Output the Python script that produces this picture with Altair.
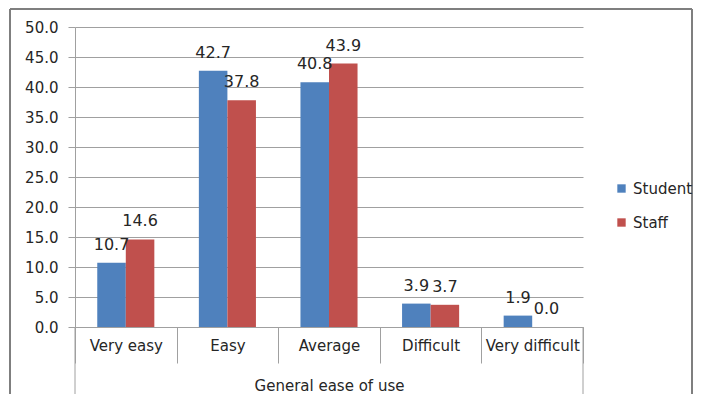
import altair as alt
import pandas as pd

categories = ["Very easy", "Easy", "Average", "Difficult", "Very difficult"]
series = ["Student", "Staff"]
student = [10.7, 42.7, 40.8, 3.9, 1.9]
staff = [14.6, 37.8, 43.9, 3.7, 0.0]
y_ticks = [0, 5, 10, 15, 20, 25, 30, 35, 40, 45, 50]
colors = ["#4F81BD", "#C0504D"]

rows = []
for c, s, t in zip(categories, student, staff):
    rows.append({"cat": c, "series": "Student", "value": s})
    rows.append({"cat": c, "series": "Staff", "value": t})
df = pd.DataFrame(rows)

FONT = "DejaVu Sans"
TXT = "#262626"
GRID = "#a0a0a0"

x_enc = alt.X("cat:N", sort=categories, scale=alt.Scale(paddingInner=0, paddingOuter=0),
              axis=alt.Axis(title="General ease of use", labelAngle=0, tickBand="extent",
                            tickSize=36, tickColor=GRID, domainColor=GRID, labelPadding=-18,
                            labelBaseline="middle", labelFontSize=15, labelColor=TXT,
                            labelFont=FONT, titleFont=FONT, titleFontSize=15,
                            titleFontWeight="normal", titleColor=TXT, titleY=58,
                            titleBaseline="middle", labelOverlap=False))
xo_enc = alt.XOffset("series:N", sort=series,
                     scale=alt.Scale(paddingInner=0, paddingOuter=0.78))
y_enc = alt.Y("value:Q", scale=alt.Scale(domain=[0, 50], nice=False),
              axis=alt.Axis(title=None, values=y_ticks, tickCount=20,
                            format=".1f", tickSize=7, tickColor=GRID, domainColor=GRID,
                            gridColor=GRID, labelPadding=10, labelFontSize=15,
                            labelColor=TXT, labelFont=FONT, labelOverlap=False))
color_enc = alt.Color("series:N", sort=series,
                      scale=alt.Scale(domain=series, range=colors),
                      legend=alt.Legend(title=None, orient="none", legendX=539, legendY=154,
                                        symbolType="square", symbolSize=70,
                                        symbolStrokeWidth=0, labelFontSize=15,
                                        labelFont=FONT, labelColor=TXT, rowPadding=18,
                                        labelOffset=4))

base = alt.Chart(df)
bars = base.mark_bar().encode(x=x_enc, xOffset=xo_enc, y=y_enc, color=color_enc)
labels = base.mark_text(dy=-13, baseline="alphabetic", align="center", fontSize=16,
                        font=FONT, color=TXT).encode(
    x=x_enc, xOffset=xo_enc, y=y_enc, text=alt.Text("value:Q", format=".1f"))

frame_df = pd.DataFrame({"k": [0]})
fr = alt.Chart(frame_df)
left_frame = fr.mark_rule(color=GRID, strokeWidth=1).encode(
    x=alt.value(0), y=alt.value(300), y2=alt.value(367))
right_frame = fr.mark_rule(color=GRID, strokeWidth=1).encode(
    x=alt.value(508), y=alt.value(300), y2=alt.value(367))
border_left = fr.mark_rule(color="#7f7f7f", strokeWidth=2).encode(
    x=alt.value(-65), y=alt.value(-18), y2=alt.value(367))
border_top = fr.mark_rule(color="#7f7f7f", strokeWidth=2).encode(
    x=alt.value(-65), x2=alt.value(617), y=alt.value(-18))
border_right = fr.mark_rule(color="#7f7f7f", strokeWidth=2).encode(
    x=alt.value(617), y=alt.value(-18), y2=alt.value(367))

chart = alt.layer(bars, labels, left_frame, right_frame, border_left, border_top,
                  border_right).properties(
    width=508, height=300,
    autosize=alt.AutoSizeParams(type="none"),
    padding={"left": 67, "top": 19, "right": 110, "bottom": 67},
).configure_view(stroke=None)

chart.save("out.html", embed_options={"renderer": "svg", "actions": False})
